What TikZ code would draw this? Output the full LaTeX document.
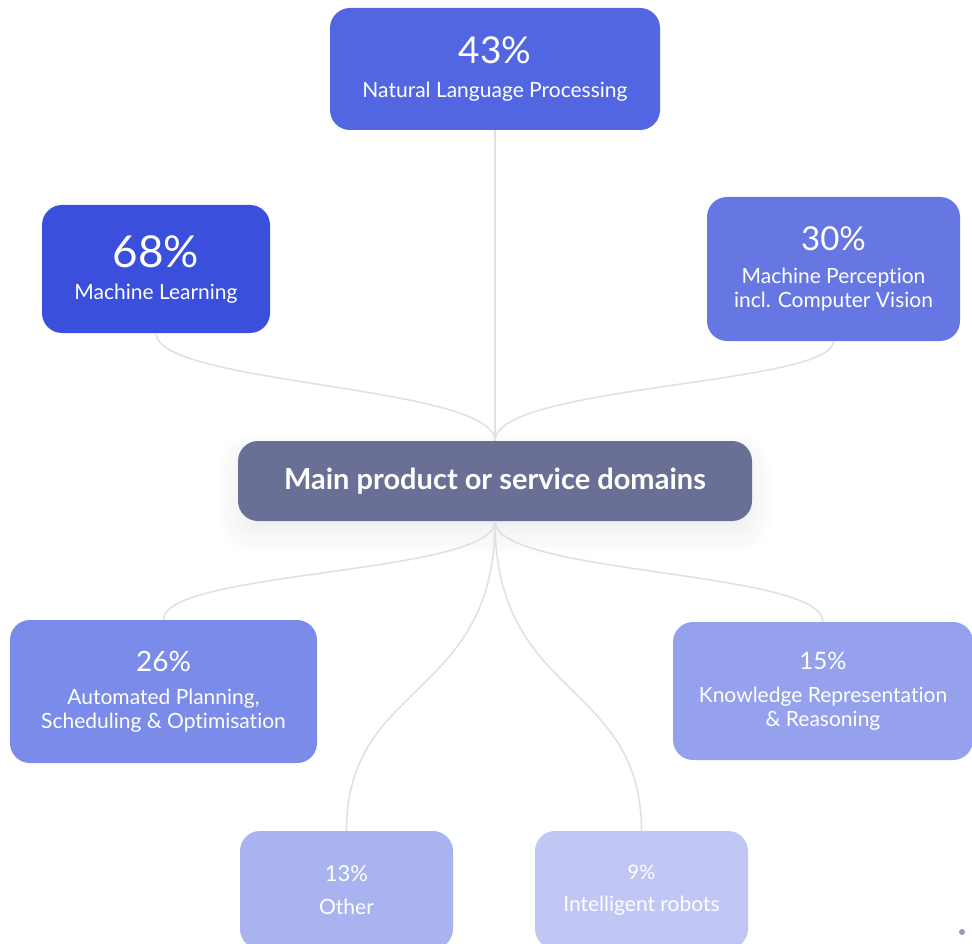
\documentclass[tikz,border=0pt]{standalone}
\usepackage{fontspec}
\setmainfont{Lato}[Ligatures=NoCommon]
\usepackage{tikz}
\usetikzlibrary{shadows.blur}
\definecolor{cML}{HTML}{3A4FDB}
\definecolor{cNLP}{HTML}{5366E1}
\definecolor{cMP}{HTML}{6677E4}
\definecolor{cMain}{HTML}{6A7095}
\definecolor{cPlan}{HTML}{7B8BE9}
\definecolor{cKnow}{HTML}{95A1ED}
\definecolor{cOther}{HTML}{A9B3F0}
\definecolor{cRobot}{HTML}{C0C7F4}
\definecolor{cLink}{HTML}{E0E0E6}
\newcommand{\pct}[2]{{\fontsize{#1}{#1}\selectfont #2}}
\begin{document}
\begin{tikzpicture}[x=1pt,y=-1pt,
  domainbox/.style={rounded corners=20pt,text=white,align=center,inner sep=0pt,
    font=\fontsize{21}{24}\selectfont},
  link/.style={draw=cLink,line width=1.6pt}]
\useasboundingbox (0,0) rectangle (972,944);
% boxes
\node[domainbox,fill=cNLP,minimum width=330pt,minimum height=122pt] (nlp) at (495,69)
  {\pct{37}{43\%}\\[10pt]Natural Language Processing};
\node[domainbox,fill=cML,minimum width=228pt,minimum height=128pt] (ml) at (156,269)
  {\pct{44}{68\%}\\[8pt]Machine Learning};
\node[domainbox,fill=cMP,minimum width=253pt,minimum height=144pt] (mp) at (833.5,269)
  {\pct{33}{30\%}\\[9pt]Machine Perception\\incl. Computer Vision};
\node[domainbox,fill=cMain,minimum width=514pt,minimum height=80pt,font=\fontsize{29}{34}\selectfont\bfseries,
  blur shadow={shadow xshift=0pt,shadow yshift=-12pt,shadow blur radius=24pt,shadow opacity=8,shadow blur steps=12}] (main) at (495,481)
  {Main product or service domains};
\node[domainbox,fill=cPlan,minimum width=307pt,minimum height=143pt] (plan) at (163.5,691.5)
  {\pct{28}{26\%}\\[9pt]Automated Planning,\\Scheduling \& Optimisation};
\node[domainbox,fill=cKnow,minimum width=300pt,minimum height=138pt] (know) at (823,691)
  {\pct{24}{15\%}\\[9pt]Knowledge Representation\\\& Reasoning};
\node[domainbox,fill=cOther,minimum width=213pt,minimum height=118pt] (other) at (346.5,890)
  {\pct{22}{13\%}\\[9pt]Other};
\node[domainbox,fill=cRobot,minimum width=213pt,minimum height=118pt] (robot) at (641.5,890)
  {\pct{20}{9\%}\\[8pt]Intelligent robots};
% links
\draw[link] (nlp.south) -- (main.north);
\draw[link] (ml.south) .. controls (156,385) and (495,385) .. (main.north);
\draw[link] (mp.south) .. controls (833.5,385) and (495,385) .. (main.north);
\draw[link] (main.south) .. controls (495,575) and (163.5,570) .. (plan.north);
\draw[link] (main.south) .. controls (495,575) and (823,570) .. (know.north);
\draw[link] (main.south) .. controls (495,700) and (346.5,680) .. (other.north);
\draw[link] (main.south) .. controls (495,700) and (641.5,680) .. (robot.north);
% corner dot
\fill[cMain!70] (962,932) circle (3pt);
\end{tikzpicture}
\end{document}
